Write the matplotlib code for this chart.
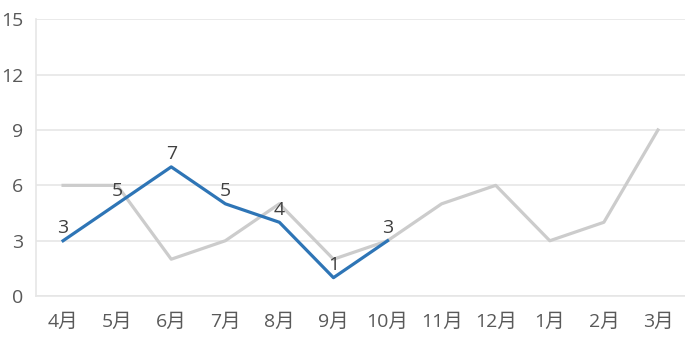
import matplotlib.pyplot as plt

plt.rcParams['font.family'] = ['Open Sans', 'Noto Sans CJK JP', 'DejaVu Sans']

months = ["4月", "5月", "6月", "7月", "8月", "9月", "10月", "11月", "12月", "1月", "2月", "3月"]
last_year = [6, 6, 2, 3, 5, 2, 3, 5, 6, 3, 4, 9]
this_year = [3, 5, 7, 5, 4, 1, 3]
y_ticks = [0, 3, 6, 9, 12, 15]

fig = plt.figure(figsize=(6.85, 3.48), dpi=100)
ax = fig.add_axes([0.0526, 0.149, 0.9474, 0.796])

x_all = list(range(len(months)))
ax.plot(x_all, last_year, color="#CCCCCC", linewidth=2.3, solid_joinstyle="round")
x_now = x_all[:len(this_year)]
ax.plot(x_now, this_year, color="#2E75B6", linewidth=2.3, solid_joinstyle="round")

for x, v in zip(x_now, this_year):
    ax.annotate(str(v), (x, v), xytext=(0, 2.5), textcoords="offset points",
                ha="center", va="bottom", fontsize=14, color="#404040")

ax.set_xlim(-0.5, len(months) - 0.5)
ax.set_ylim(0, 15)
ax.set_xticks(x_all)
ax.set_xticklabels(months)
ax.set_yticks(y_ticks)
ax.grid(axis="y", color="#E6E6E6", linewidth=1.2)
ax.set_axisbelow(True)

for side in ["top", "right"]:
    ax.spines[side].set_visible(False)
ax.spines["left"].set_color("#E6E6E6")
ax.spines["bottom"].set_color("#E6E6E6")
ax.spines["left"].set_linewidth(1.2)
ax.spines["bottom"].set_linewidth(1.2)

ax.tick_params(axis="both", length=0, labelsize=14, labelcolor="#595959")
ax.tick_params(axis="x", pad=12)
ax.tick_params(axis="y", pad=9)

fig.savefig("out.png", dpi=100)
